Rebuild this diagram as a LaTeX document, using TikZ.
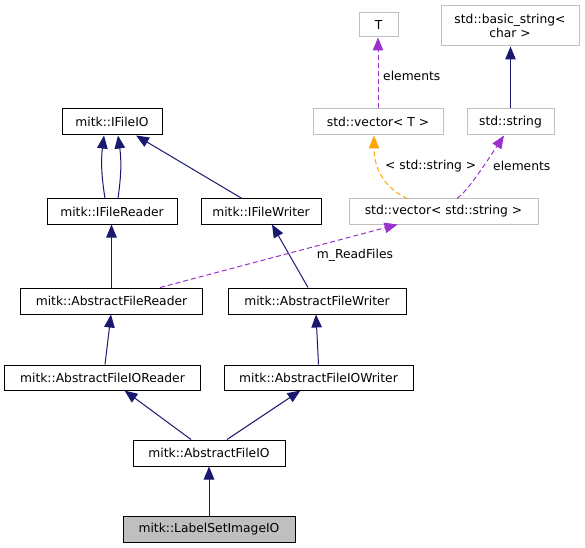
\documentclass[tikz,border=0pt]{standalone}
\usepackage{fontspec}
\setmainfont{DejaVu Sans}
\usetikzlibrary{arrows.meta}
\definecolor{navy}{HTML}{191970}
\definecolor{purp}{HTML}{9A32CD}
\definecolor{orng}{HTML}{FFA500}
\definecolor{lgray}{HTML}{BFBFBF}
\tikzset{
  cls/.style={draw=black, line width=1bp, inner sep=0pt, font=\fontsize{12.3bp}{14bp}\selectfont, align=center},
  ext/.style={cls, draw=lgray},
  tip/.style={-{Triangle[width=10.5bp,length=13bp]}},
  inh/.style={draw=navy, line width=1bp, tip, color=navy},
  usedash/.style={draw=purp, line width=1bp, dash pattern=on 5bp off 3bp, tip, color=purp},
  tmpl/.style={draw=orng, line width=1bp, dash pattern=on 5bp off 3bp, tip, color=orng},
  lbl/.style={font=\fontsize{12.3bp}{14bp}\selectfont, inner sep=0pt, text=black}
}
\begin{document}
\begin{tikzpicture}[x=1bp,y=-1bp]
\useasboundingbox (0,0) rectangle (585,548);
\node[ext, minimum width=39bp, minimum height=24bp] (T) at (378.5,25) {T};
\node[ext, minimum width=138bp, minimum height=40bp] (bs) at (510,26) {std::basic\_string<\\char >};
\node[ext, minimum width=130bp, minimum height=26bp] (vecT) at (378,122) {std::vector< T >};
\node[ext, minimum width=87bp, minimum height=26bp] (str) at (510.5,122) {std::string};
\node[ext, minimum width=189bp, minimum height=25bp] (vecS) at (443.5,211.5) {std::vector< std::string >};
\node[cls, minimum width=100bp, minimum height=26bp] (ifio) at (112,122) {mitk::IFileIO};
\node[cls, minimum width=130bp, minimum height=25bp] (ifr) at (112,211.5) {mitk::IFileReader};
\node[cls, minimum width=120bp, minimum height=25bp] (ifw) at (261,211.5) {mitk::IFileWriter};
\node[cls, minimum width=181bp, minimum height=26bp] (afr) at (111.5,301) {mitk::AbstractFileReader};
\node[cls, minimum width=178bp, minimum height=26bp] (afw) at (317,301) {mitk::AbstractFileWriter};
\node[cls, minimum width=195bp, minimum height=25bp] (afior) at (102.5,377.5) {mitk::AbstractFileIOReader};
\node[cls, minimum width=189bp, minimum height=25bp] (afiow) at (318.5,377.5) {mitk::AbstractFileIOWriter};
\node[cls, minimum width=152bp, minimum height=26bp] (afio) at (209,453) {mitk::AbstractFileIO};
\node[cls, fill=lgray, minimum width=172bp, minimum height=26bp] (lsio) at (209,529) {mitk::LabelSetImageIO};

\draw[inh] ([xshift=-7bp]ifr.north) to[bend left=8] ([xshift=-8bp]ifio.south);
\draw[inh] ([xshift=6bp]ifr.north) to[bend right=8] ([xshift=6bp]ifio.south);
\draw[inh] ([xshift=-19bp]ifw.north) -- ([xshift=24bp]ifio.south);
\draw[inh] (afr.north) -- (afr.north |- ifr.south);
\draw[inh] ([xshift=-9bp]afw.north) -- ([xshift=11bp]ifw.south);
\draw[inh] ([xshift=2.5bp]afior.north) -- ([xshift=-0.5bp]afr.south);
\draw[inh] (afiow.north) -- ([xshift=-1bp]afw.south);
\draw[inh] ([xshift=-18bp]afio.north) -- ([xshift=22bp]afior.south);
\draw[inh] ([xshift=18bp]afio.north) -- ([xshift=-18bp]afiow.south);
\draw[inh] (lsio.north) -- (afio.south);
\draw[inh] (str.north) -- (str.north |- bs.south);

\draw[usedash] (vecT.north) -- (vecT.north |- T.south);
\node[lbl, anchor=west] (l1) at (383,76) {elements};
\draw[tmpl] ([xshift=-36bp]vecS.north) .. controls (388,190) and (374,172) .. ([xshift=-4bp]vecT.south);
\node[lbl, anchor=west] (l2) at (385,166) {< std::string >};
\draw[usedash] ([xshift=13.5bp]vecS.north) .. controls (466,192) and (478,175) .. ([xshift=-6.5bp]str.south);
\node[lbl, anchor=west] (l3) at (493,166) {elements};
\draw[usedash] ([xshift=48.5bp]afr.north) -- ([xshift=-46bp]vecS.south);
\node[lbl] (l4) at (355,255) {m\_ReadFiles};
\end{tikzpicture}
\end{document}
